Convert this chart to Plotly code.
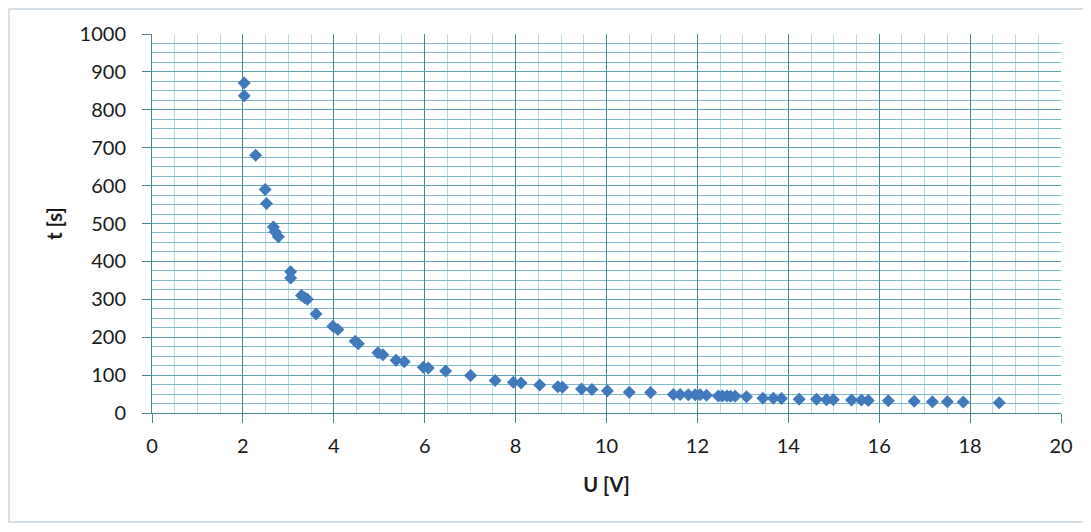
import plotly.graph_objects as go

U_values = [2.03, 2.03, 2.28, 2.49, 2.52, 2.67, 2.71, 2.78, 3.05, 3.05,
            3.29, 3.36, 3.42, 3.61, 3.98, 4.09, 4.47, 4.54, 4.97, 5.08,
            5.37, 5.55, 5.97, 6.08, 6.46, 7.01, 7.55, 7.95, 8.12, 8.53,
            8.93, 9.03, 9.45, 9.68, 10.02, 10.5, 10.97,
            11.47, 11.62, 11.80, 11.95, 12.06, 12.20,
            12.46, 12.55, 12.65, 12.73, 12.83, 13.08,
            13.44, 13.67, 13.85, 14.24, 14.62, 14.84, 14.99,
            15.39, 15.61, 15.76, 16.2, 16.77, 17.17, 17.5, 17.85, 18.64]
t_values = [871, 837, 680, 590, 553, 491, 478, 465, 373, 356,
            310, 304, 300, 261, 229, 220, 189, 183, 159, 154,
            139, 135, 121, 119, 111, 99, 86, 81, 79, 74,
            69, 68, 63, 62, 59, 55, 54,
            49, 49, 48, 48, 48, 47,
            45, 45, 45, 44, 44, 43,
            39, 39, 38, 36, 36, 35, 35,
            34, 34, 33, 32, 31, 30, 30, 29, 27]

x_ticks = [0, 2, 4, 6, 8, 10, 12, 14, 16, 18, 20]
y_ticks = [0, 100, 200, 300, 400, 500, 600, 700, 800, 900, 1000]

font_family = "Lato, 'Open Sans', sans-serif"

fig = go.Figure()
fig.add_trace(go.Scatter(
    x=U_values, y=t_values, mode="markers",
    marker=dict(symbol="diamond", size=10, color="#4279bd",
                line=dict(width=0)),
    showlegend=False,
))

fig.update_layout(
    width=1083, height=516,
    margin=dict(l=144, r=30, t=26, b=111),
    paper_bgcolor="white", plot_bgcolor="white",
    font=dict(family=font_family, size=20, color="#1a1a1a"),
    xaxis=dict(
        range=[0, 20], tickvals=x_ticks, ticktext=[str(v) for v in x_ticks],
        showgrid=True, gridcolor="#4a8595", gridwidth=1,
        minor=dict(dtick=0.5, tick0=0, showgrid=True, gridcolor="#b6d9ea", gridwidth=1),
        showline=True, linecolor="#4a8595", linewidth=1,
        ticks="outside", ticklen=9, tickcolor="#4a8595",
        ticklabelstandoff=6,
        zeroline=False,
        title=dict(text="<b>U [V]</b>", font=dict(size=20, family=font_family), standoff=21),
        tickfont=dict(size=20),
    ),
    yaxis=dict(
        range=[0, 1000], tickvals=y_ticks, ticktext=[str(v) for v in y_ticks],
        showgrid=True, gridcolor="#5f9db2", gridwidth=1,
        minor=dict(dtick=25, tick0=0, showgrid=True, gridcolor="#80b8cc", gridwidth=1),
        showline=True, linecolor="#4a8595", linewidth=1,
        ticks="outside", ticklen=9, tickcolor="#4a8595",
        ticklabelstandoff=12,
        zeroline=False,
        title=dict(text="<b>t [s]</b>", font=dict(size=20, family=font_family), standoff=11),
        tickfont=dict(size=20),
    ),
    shapes=[dict(type="rect", xref="paper", yref="paper",
                 x0=-0.1573, x1=1.0264, y0=-0.2876, y1=1.066,
                 line=dict(color="#c8d4dc", width=1.5), fillcolor="rgba(0,0,0,0)",
                 layer="below")],
)

fig.write_html("out.html")
